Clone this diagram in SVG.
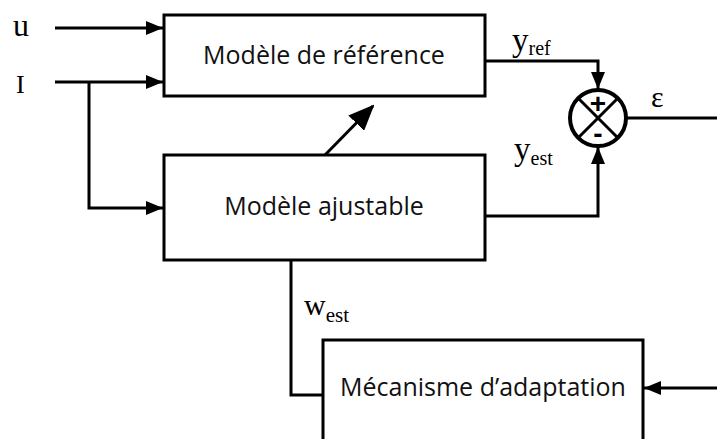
<svg xmlns="http://www.w3.org/2000/svg" width="717" height="439" viewBox="0 0 717 439">
<style>
.box{fill:#fff;stroke:#000;stroke-width:3}
.lbl{font-family:"Open Sans","Liberation Sans",sans-serif;font-size:25px;fill:#111;text-anchor:middle}
.sym{font-family:"Liberation Serif","Times New Roman",serif;fill:#000}
.wire{fill:none;stroke:#000;stroke-width:3}
.sign{font-family:"Liberation Sans",Arial,sans-serif;font-weight:bold;fill:#000;text-anchor:middle}
</style>
<defs>
<marker id="ah" viewBox="0 0 17 14" refX="17" refY="7" markerWidth="17" markerHeight="14" markerUnits="userSpaceOnUse" orient="auto">
<path d="M0,0 L17,7 L0,14 z" fill="#000"/>
</marker>
<marker id="ahb" viewBox="0 0 26 22" refX="24" refY="11" markerWidth="26" markerHeight="22" markerUnits="userSpaceOnUse" orient="auto">
<path d="M0,0 L26,11 L0,22 z" fill="#000"/>
</marker>
</defs>
<g id="connectors">
<path class="wire" d="M55,28 H163" marker-end="url(#ah)"/>
<path class="wire" d="M55,82 H163" marker-end="url(#ah)"/>
<path class="wire" d="M89,82 V208 H163" marker-end="url(#ah)"/>
<path class="wire" d="M485,61 H598 V89" marker-end="url(#ah)"/>
<path class="wire" d="M485,216 H598 V147" marker-end="url(#ah)"/>
<path class="wire" d="M627,118 H717"/>
<path class="wire" d="M291,260 V395 H323"/>
<path class="wire" d="M717,388 H644" marker-end="url(#ah)"/>
<path class="wire" d="M324,156 L373,106" stroke-width="5.5" marker-end="url(#ahb)"/>
</g>
<g id="ref-model">
<rect class="box" x="164" y="15" width="321" height="81"/>
<text class="lbl" x="324" y="64">Modèle de référence</text>
</g>
<g id="adj-model">
<rect class="box" x="164" y="155" width="321" height="105"/>
<text class="lbl" x="324" y="215">Modèle ajustable</text>
</g>
<g id="adaptation">
<rect class="box" x="323" y="340" width="320" height="130"/>
<text class="lbl" x="483" y="396">Mécanisme d’adaptation</text>
</g>
<g id="sum">
<circle cx="598" cy="118" r="28" fill="#fff" stroke="#000" stroke-width="4"/>
<path d="M578,98 L618,138 M618,98 L578,138" stroke="#000" stroke-width="3"/>
<text class="sign" x="598" y="113" font-size="28">+</text>
<text class="sign" x="598" y="143" font-size="28">-</text>
</g>
<g id="labels">
<text class="sym" x="13" y="36" font-size="32">u</text>
<text class="sym" x="16" y="93" font-size="26">I</text>
<text class="sym" x="512" y="51" font-size="33">y<tspan font-size="20" dy="4">ref</tspan></text>
<text class="sym" x="514" y="160" font-size="33">y<tspan font-size="20" dy="5">est</tspan></text>
<text class="sym" x="304" y="315" font-size="30">w<tspan font-size="21" dy="7">est</tspan></text>
<text class="sym" x="651" y="107" font-size="30">ε</text>
</g>
</svg>
